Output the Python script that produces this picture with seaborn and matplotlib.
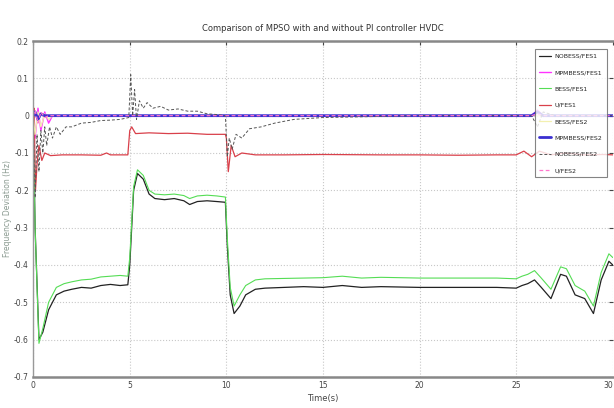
import matplotlib
matplotlib.use("Agg")
import matplotlib.pyplot as plt
import seaborn as sns
import pandas as pd

# --- series data -----------------------------------------------------------
t_main = [0, 0.1, 0.3, 0.5, 0.8, 1.2, 1.6, 2.0, 2.5, 3.0, 3.5, 4.0, 4.5, 4.9,
          5.0, 5.2, 5.4, 5.7, 6.0, 6.3, 6.8, 7.3, 7.8, 8.1, 8.5, 9.0, 9.5, 9.95,
          10.05, 10.2, 10.4, 10.7, 11.0, 11.5, 12, 13, 14, 15, 16, 17, 18, 20,
          22, 24, 25.0, 25.3, 25.6, 25.95, 26.3, 26.8, 27.3, 27.6, 28.05, 28.55,
          29.0, 29.4, 29.8, 30]
no_fes1 = [0, -0.3, -0.6, -0.58, -0.52, -0.48, -0.47, -0.465, -0.46, -0.462,
           -0.455, -0.452, -0.455, -0.453, -0.40, -0.2, -0.155, -0.17, -0.21,
           -0.222, -0.225, -0.222, -0.228, -0.238, -0.23, -0.228, -0.23, -0.232,
           -0.35, -0.48, -0.53, -0.51, -0.48, -0.465, -0.462, -0.46, -0.458,
           -0.46, -0.455, -0.46, -0.458, -0.46, -0.46, -0.46, -0.462, -0.455,
           -0.45, -0.44, -0.46, -0.49, -0.425, -0.43, -0.48, -0.49, -0.53,
           -0.44, -0.39, -0.4]
bess_fes1 = [0, -0.3, -0.61, -0.57, -0.5, -0.46, -0.45, -0.445, -0.44, -0.438,
             -0.432, -0.43, -0.428, -0.43, -0.38, -0.19, -0.145, -0.16, -0.2,
             -0.21, -0.212, -0.21, -0.214, -0.222, -0.215, -0.213, -0.215,
             -0.218, -0.33, -0.46, -0.51, -0.48, -0.455, -0.44, -0.437, -0.436,
             -0.435, -0.434, -0.43, -0.435, -0.433, -0.435, -0.435, -0.435,
             -0.437, -0.43, -0.425, -0.415, -0.435, -0.465, -0.405, -0.41,
             -0.455, -0.47, -0.51, -0.42, -0.37, -0.38]

t_red = [0, 0.05, 0.12, 0.2, 0.3, 0.45, 0.6, 0.9, 1.5, 2.5, 3.5, 3.8, 4.0, 4.9,
         5.0, 5.1, 5.3, 6, 7, 8, 9, 9.95, 10.0, 10.1, 10.25, 10.45, 10.8, 11.5,
         13, 15, 18, 20, 22, 24, 25, 25.4, 25.8, 26.2, 26.8, 27.5, 28.5, 29.5, 30]
u_fes1 = [0, 0.02, -0.2, -0.13, -0.08, -0.12, -0.1, -0.107, -0.105, -0.105,
          -0.106, -0.1, -0.105, -0.105, -0.04, -0.03, -0.048, -0.046, -0.048,
          -0.047, -0.05, -0.05, -0.06, -0.15, -0.08, -0.11, -0.1, -0.105, -0.105,
          -0.104, -0.105, -0.105, -0.106, -0.105, -0.105, -0.095, -0.11, -0.095,
          -0.105, -0.1, -0.105, -0.104, -0.105]

t_dash = [0, 0.1, 0.2, 0.3, 0.4, 0.5, 0.6, 0.7, 0.85, 1.0, 1.2, 1.4, 1.7, 2.0,
          2.5, 3.0, 3.5, 4.0, 4.5, 4.95, 5.05, 5.15, 5.25, 5.35, 5.5, 5.7, 5.9,
          6.2, 6.6, 7.0, 7.5, 8.0, 8.5, 9.0, 9.5, 9.95, 10.05, 10.15, 10.3, 10.5,
          10.8, 11.2, 11.8, 12.5, 13.5, 15, 20, 25, 25.8, 26.1, 26.4, 27, 30]
no_fes2 = [0, -0.22, -0.05, -0.15, -0.04, -0.1, -0.03, -0.08, -0.03, -0.06,
           -0.03, -0.05, -0.03, -0.03, -0.02, -0.018, -0.013, -0.012, -0.01,
           -0.005, 0.11, 0.0, 0.07, -0.01, 0.04, 0.02, 0.035, 0.02, 0.025, 0.015,
           0.018, 0.012, 0.012, 0.005, 0.003, 0.0, -0.11, -0.06, -0.09, -0.05,
           -0.06, -0.035, -0.03, -0.02, -0.01, -0.005, 0.0, 0.0, 0.0, -0.03,
           0.01, 0.0, 0.0]

t_flat = [0, 0.1, 0.25, 0.4, 0.6, 0.8, 1.0, 1.5, 25.8, 26.1, 26.4, 30]
mp_fes1 = [0, -0.06, 0.02, -0.04, 0.01, -0.02, 0, 0, 0, 0.015, 0, 0]
mp_fes2 = [0, 0.01, -0.01, 0.005, 0, 0, 0, 0, 0, 0.01, 0, 0]
bess_fes2 = [0, -0.05, 0.01, -0.03, 0.005, -0.01, 0, 0, 0, 0, 0, 0]
u_fes2 = [0, 0.015, -0.02, 0.01, -0.005, 0, 0, 0, 0, 0.005, 0, 0]

series_names = ['NOBESS/FES1', 'MPMBESS/FES1', 'BESS/FES1', 'U/FES1',
                'BESS/FES2', 'MPMBESS/FES2', 'NOBESS/FES2', 'U/FES2']
x_ticks = [0, 5, 10, 15, 20, 25, 30]
y_ticks = [0.2, 0.1, 0, -0.1, -0.2, -0.3, -0.4, -0.5, -0.6, -0.7]

# --- styling ---------------------------------------------------------------
sns.set_style("whitegrid")
plt.rcParams['font.family'] = ['Liberation Sans Narrow', 'DejaVu Sans']

fig = plt.figure(figsize=(6.14, 4.08), dpi=100)
ax = fig.add_axes([0.054, 0.076, 0.944, 0.8235])

plots = [
    (t_main, no_fes1, series_names[0], '#222222', '-', 0.9),
    (t_flat, mp_fes1, series_names[1], '#ff33ff', '-', 1.0),
    (t_main, bess_fes1, series_names[2], '#55dd55', '-', 0.8),
    (t_red, u_fes1, series_names[3], '#d9404a', '-', 0.9),
    (t_flat, bess_fes2, series_names[4], '#f3f0b0', '-', 0.9),
    (t_flat, mp_fes2, series_names[5], '#3a2fd0', '-', 2.0),
    (t_dash, no_fes2, series_names[6], '#555555', (0, (3, 2)), 0.7),
    (t_flat, u_fes2, series_names[7], '#ff77cc', (0, (3, 2)), 0.9),
]
for t, v, name, color, ls, lw in plots:
    df = pd.DataFrame({'t': t, 'v': v})
    sns.lineplot(data=df, x='t', y='v', ax=ax, color=color, linestyle=ls,
                 linewidth=lw, label=name, sort=False, estimator=None)

ax.set_xlim(0, 30)
ax.set_ylim(-0.7, 0.2)
ax.set_xticks(x_ticks)
ax.set_xticklabels([str(x) for x in x_ticks])
ax.set_yticks(y_ticks)
ax.set_yticklabels(['0.2', '0.1', '0', '-0.1', '-0.2', '-0.3', '-0.4', '-0.5',
                    '-0.6', '-0.7'])
ax.grid(True, color='#c8c8c8', linestyle=':', linewidth=0.8)
ax.tick_params(axis='both', direction='in', length=3, labelsize=5.5,
               colors='#444444', top=True, right=True, pad=3)
# keep the last x label inside the figure edge
ax.get_xticklabels()[-1].set_horizontalalignment('right')
for side in ['top', 'bottom']:
    ax.spines[side].set_color('#888888')
    ax.spines[side].set_linewidth(1.8)
ax.spines['left'].set_color('#999999')
ax.spines['left'].set_linewidth(1.0)
ax.spines['right'].set_visible(False)

ax.set_title('Comparison of MPSO with and without PI controller HVDC',
             fontsize=6, color='#333333', pad=7)
ax.set_xlabel('Time(s)', fontsize=6, color='#444444', labelpad=3)
ax.set_ylabel('Frequency Deviation (Hz)', fontsize=5.5, color='#8a9a90')
ax.yaxis.set_label_coords(-0.036, 0.5)

leg = ax.legend(loc='upper right', fontsize=4.5, frameon=True, fancybox=False,
                edgecolor='#666666', handlelength=2.0, labelspacing=1.75,
                borderpad=0.7, handletextpad=0.5,
                bbox_to_anchor=(0.995, 0.985))
leg.get_frame().set_linewidth(0.8)

fig.savefig('out.png', dpi=100)
